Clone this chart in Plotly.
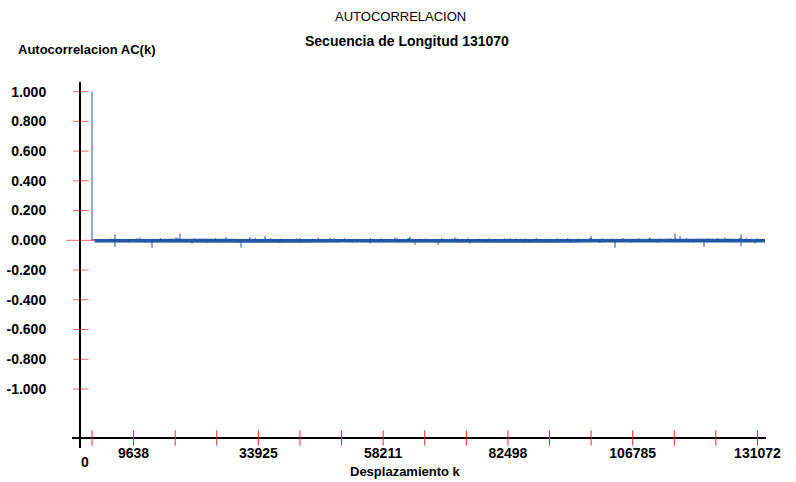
import plotly.graph_objects as go

# ---------------- data ----------------
title_text = "AUTOCORRELACION"
subtitle_text = "Secuencia de Longitud 131070"
y_title = "Autocorrelacion AC(k)"
x_title = "Desplazamiento k"

seq_length = 131070
lag_step = 512
lags = [0, 1] + list(range(lag_step, seq_length, lag_step)) + [seq_length]

ac_values = [1.000, 0.002,
    0.004,-0.012,0.008,-0.010,0.006,-0.014,0.010,-0.008,0.009,-0.011,0.007,-0.011,0.009,-0.013,0.005,-0.009,
    0.011,-0.007,0.006,-0.015,0.009,-0.010,-0.012,0.008,-0.012,0.012,-0.006,0.007,-0.013,0.010,-0.009,0.005,
    0.011,-0.011,0.008,-0.014,0.006,-0.009,0.011,-0.012,0.007,-0.008,0.010,-0.015,0.009,-0.006,0.012,-0.010,
    0.006,-0.013,0.008,-0.009,0.010,-0.011,0.005,-0.014,0.008,-0.012,-0.007,0.011,-0.012,0.007,-0.010,0.008,
    -0.013,0.012,-0.008,0.012,-0.011,0.006,-0.015,0.010,-0.009,0.007,-0.012,0.009,-0.006,0.011,-0.014,0.008,
    -0.010,0.006,-0.012,0.010,-0.008,0.013,-0.011,0.007,-0.014,0.009,-0.009,0.011,-0.013,0.006,-0.010,0.012,
    -0.008,0.009,-0.015,0.007,-0.011,0.010,-0.012,0.008,-0.009,0.013,-0.010,0.006,-0.014,0.011,-0.007,0.009,
    -0.012,0.008,-0.010,0.012,-0.013,0.007,-0.009,0.010,0.011,-0.011,0.006,-0.014,0.009,-0.008,0.011,-0.012,
    0.007,-0.010,0.009,-0.013,0.012,-0.011,0.008,-0.013,0.010,-0.007,0.011,-0.015,0.006,-0.009,0.012,-0.010,
    0.008,-0.012,0.010,-0.008,0.007,-0.014,0.011,-0.010,0.009,-0.013,0.006,-0.009,0.012,-0.011,0.008,-0.012,
    0.010,-0.007,0.009,-0.015,0.011,-0.010,0.007,-0.012,0.013,-0.009,0.006,-0.011,0.010,-0.014,0.008,-0.008,
    0.011,-0.013,0.007,-0.010,0.012,-0.009,0.008,-0.014,0.010,-0.011,0.006,-0.012,0.009,0.012,-0.010,0.007,
    -0.013,0.011,-0.009,0.008,-0.012,0.010,-0.013,0.007,-0.011,0.012,-0.008,0.009,-0.014,0.006,-0.010,0.011,
    -0.012,0.008,-0.009,0.013,-0.011,0.007,-0.015,0.010,-0.008,0.009,-0.012,0.011,-0.010,0.012,-0.013,0.008,
    -0.009,0.012,-0.011,0.006,-0.014,0.010,-0.008,0.009,-0.012,0.011,-0.010,0.007,-0.012,0.013,-0.009,0.008,
    -0.011,0.010,-0.013,0.007,-0.010,0.009,0.011,-0.012,0.011,-0.012,0.008,-0.009,0.012,-0.011,0.006,-0.008,
]

# individual spikes that stick out of the noise band
spike_lags = [4480, 4480, 9348, 11686, 16360, 17139, 19476, 26098, 29019, 30772,
              31746, 33693, 36615, 40510, 46353, 54143, 59012, 61934, 62908, 67387,
              70698, 73620, 81410, 85305, 93095, 97185, 98938, 101859, 108676, 113545,
              114519, 119193, 123283, 126399, 126399, 129126]
spike_values = [0.040, -0.045, 0.018, -0.050, 0.020, 0.045, -0.022, 0.022, -0.050, 0.020,
                0.018, 0.030, -0.018, 0.016, 0.018, -0.022, 0.020, 0.025, -0.030, -0.032,
                0.020, -0.022, 0.016, -0.018, -0.018, 0.030, -0.018, -0.050, 0.018, 0.045,
                0.030, -0.045, 0.018, 0.040, -0.040, -0.022]

# dense core of the noise band (per 8192 lags)
band_lags = [512, 8192, 16384, 24576, 32768, 40960, 49152, 57344, 65536,
             73728, 81920, 90112, 98304, 106496, 114688, 122880, 131070]
band_upper = [0.009, 0.010, 0.009, 0.010, 0.008, 0.009, 0.008, 0.009, 0.008,
              0.009, 0.008, 0.009, 0.008, 0.009, 0.009, 0.010, 0.009]
band_lower = [-0.015, -0.016, -0.015, -0.016, -0.015, -0.016, -0.015, -0.016, -0.015,
              -0.016, -0.015, -0.016, -0.015, -0.016, -0.015, -0.016, -0.015]

y_tick_values = [1.0, 0.8, 0.6, 0.4, 0.2, 0.0, -0.2, -0.4, -0.6, -0.8, -1.0]
y_tick_labels = ["1.000", "0.800", "0.600", "0.400", "0.200", "0.000",
                 "-0.200", "-0.400", "-0.600", "-0.800", "-1.000"]

x_tick_step = 8100
x_tick_positions = [n * x_tick_step for n in range(17)]
x_label_index = [1, 4, 7, 10, 13, 16]
x_tick_labels = ["9638", "33925", "58211", "82498", "106785", "131072"]

# ---------------- style ----------------
W, H = 796, 482
ML, MR, MT, MB = 81, 30, 82, 34
line_blue = "rgb(33,87,165)"
tick_red = "rgb(230,40,40)"
FONT = "Liberation Sans, Arial, sans-serif"

x_range = [-2142, 131265]
y_range = [-1.3968, 1.0646]
x_axis_y = -1.3295      # level at which the horizontal axis is drawn
origin_label_x = -1363

plot_w, plot_h = W - ML - MR, H - MT - MB
def px_to_paper_x(px):
    return (px - ML) / plot_w
def px_to_paper_y(py):
    return 1 - (py - MT) / plot_h

fig = go.Figure()

fig.add_trace(go.Scatter(
    x=band_lags, y=band_upper, mode="lines", line=dict(width=0, color=line_blue),
    hoverinfo="skip", showlegend=False,
))
fig.add_trace(go.Scatter(
    x=band_lags, y=band_lower, mode="lines", line=dict(width=0, color=line_blue),
    fill="tonexty", fillcolor=line_blue, hoverinfo="skip", showlegend=False,
))
fig.add_trace(go.Scatter(
    x=lags, y=ac_values, mode="lines",
    line=dict(color=line_blue, width=1),
    hoverinfo="skip", showlegend=False,
))

# spikes as thin vertical strokes from the zero level
sx, sy = [], []
for k, v in zip(spike_lags, spike_values):
    sx += [k, k, None]
    sy += [0, v, None]
fig.add_trace(go.Scatter(
    x=sx, y=sy, mode="lines", line=dict(color=line_blue, width=1),
    connectgaps=False, hoverinfo="skip", showlegend=False,
))

# red tick marks on the vertical axis
fig.add_trace(go.Scatter(
    x=[x_range[0]] * len(y_tick_values), y=y_tick_values, mode="markers",
    marker=dict(symbol="line-ew", size=[21 if v == 0 else 11 for v in y_tick_values],
                line=dict(color=tick_red, width=1)),
    cliponaxis=False, hoverinfo="skip", showlegend=False,
))
# red tick marks on the horizontal axis
fig.add_trace(go.Scatter(
    x=x_tick_positions, y=[x_axis_y] * len(x_tick_positions), mode="markers",
    marker=dict(symbol="line-ns", size=11, line=dict(color=tick_red, width=1)),
    cliponaxis=False, hoverinfo="skip", showlegend=False,
))

# horizontal axis line (extends a bit left of the vertical axis)
fig.add_shape(type="line", xref="paper", yref="y",
              x0=-9 / plot_w, x1=1.0, y0=x_axis_y, y1=x_axis_y,
              line=dict(color="black", width=2), layer="below")

x_axis_pos = (x_axis_y - y_range[0]) / (y_range[1] - y_range[0])

fig.update_layout(
    width=W, height=H,
    margin=dict(l=ML, r=MR, t=MT, b=MB, autoexpand=False),
    paper_bgcolor="white", plot_bgcolor="white",
    font=dict(family=FONT, color="black"),
    showlegend=False,
    xaxis=dict(
        range=x_range, showgrid=False, zeroline=False, showline=False,
        anchor="free", position=x_axis_pos, automargin=False,
        tickvals=[x_tick_positions[i] for i in x_label_index],
        ticktext=x_tick_labels, ticks="",
        tickfont=dict(size=14, family=FONT, weight="bold"),
        ticklabelstandoff=5,
    ),
    yaxis=dict(
        range=y_range, showgrid=False, zeroline=False, automargin=False,
        showline=True, linecolor="black", linewidth=2,
        tickvals=y_tick_values, ticktext=y_tick_labels, ticks="",
        tickfont=dict(size=14, family=FONT, weight="bold"),
        ticklabelstandoff=30,
    ),
    annotations=[
        dict(text=title_text, xref="paper", yref="paper",
             x=px_to_paper_x(400), y=px_to_paper_y(16), xanchor="center", yanchor="middle",
             showarrow=False, font=dict(size=13)),
        dict(text="<b>" + subtitle_text + "</b>", xref="paper", yref="paper",
             x=px_to_paper_x(407), y=px_to_paper_y(41), xanchor="center", yanchor="middle",
             showarrow=False, font=dict(size=14)),
        dict(text="<b>" + y_title + "</b>", xref="paper", yref="paper",
             x=px_to_paper_x(16), y=px_to_paper_y(50), xanchor="left", yanchor="middle",
             showarrow=False, font=dict(size=13)),
        dict(text="<b>" + x_title + "</b>", xref="paper", yref="paper",
             x=px_to_paper_x(405), y=px_to_paper_y(471), xanchor="center", yanchor="middle",
             showarrow=False, font=dict(size=13)),
        dict(text="<b>0</b>", xref="x", yref="paper", x=origin_label_x,
             y=px_to_paper_y(462), xanchor="center", yanchor="middle",
             showarrow=False, font=dict(size=14)),
    ],
)

fig.write_html("out.html")
